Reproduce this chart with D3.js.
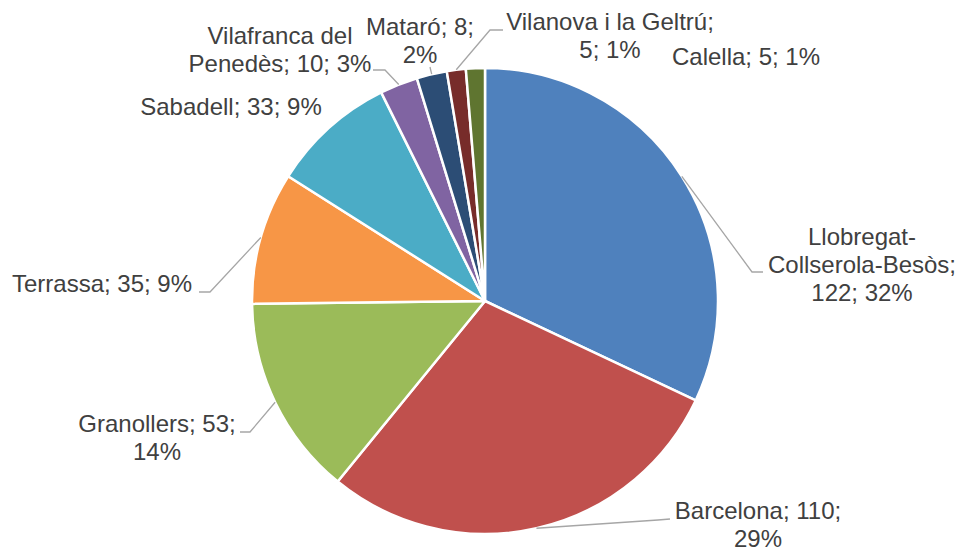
<!DOCTYPE html>
<html>
<head>
<meta charset="utf-8">
<script src="https://cdn.jsdelivr.net/npm/d3@7"></script>
<style>
  html, body { margin: 0; padding: 0; background: #fff; }
  svg { display: block; }
</style>
</head>
<body>
<svg id="chart" width="962" height="551"></svg>
<script>
// ---- data ----
const categories = ["Llobregat-Collserola-Besòs", "Barcelona", "Granollers", "Terrassa", "Sabadell",
                    "Vilafranca del Penedès", "Mataró", "Vilanova i la Geltrú", "Calella"];
const values = [122, 110, 53, 35, 33, 10, 8, 5, 5];
const colors = ["#4F81BD", "#C0504D", "#9BBB59", "#F79646", "#4BACC6",
                "#8064A2", "#2C4D75", "#772C2A", "#5F7530"];

// ---- label layout (placement only) ----
const labelBreaks = [["Llobregat-", "Besòs;"], ["110;"], ["53;"], [], [], ["del"], ["8;"], ["Geltrú;"], []];
const labelAnchor = [[862, 245], [758, 519], [157, 432], [102, 292], [231, 115],
                     [280, 44], [420, 35], [610, 30], [746, 65]];
const leaderPath = [[[752, 272], [763, 272]], [[658, 520], [670, 519]], [[250, 432], [240, 432]],
                    [[210, 292], [199, 292]], null, [[385, 70], [373, 70]], [[430, 67]],
                    [[490, 30], [503, 30]], null];

const W = 962, H = 551, cx = 485, cy = 301, R = 233, lineH = 28;
const svg = d3.select("#chart");
const total = d3.sum(values);
const data = categories.map((c, i) => ({ name: c, value: values[i], i }));

const pie = d3.pie().value(d => d.value).sort(null).startAngle(0).endAngle(2 * Math.PI);
const arc = d3.arc().innerRadius(0).outerRadius(R);
const edge = d3.arc().innerRadius(R).outerRadius(R);
const arcs = pie(data);

const g = svg.append("g").attr("transform", `translate(${cx},${cy})`);
g.selectAll("path.slice").data(arcs).enter().append("path")
  .attr("class", "slice")
  .attr("d", arc)
  .attr("fill", d => colors[d.data.i])
  .attr("stroke", "#fff")
  .attr("stroke-width", 2.5)
  .attr("stroke-linejoin", "round");

// leader lines
arcs.forEach(d => {
  const lp = leaderPath[d.data.i];
  if (!lp) return;
  const c = edge.centroid(d);
  const pts = [[cx + c[0], cy + c[1]], ...lp];
  svg.append("path")
    .attr("d", d3.line()(pts))
    .attr("fill", "none")
    .attr("stroke", "#A6A6A6")
    .attr("stroke-width", 1.3);
});

// labels
arcs.forEach(d => {
  const i = d.data.i;
  const pct = Math.round(d.data.value / total * 100);
  let text = `${d.data.name}; ${d.data.value}; ${pct}%`;
  const lines = [];
  labelBreaks[i].forEach(b => {
    const k = text.indexOf(b) + b.length;
    lines.push(text.slice(0, k).trim());
    text = text.slice(k);
  });
  lines.push(text.trim());
  const t = svg.append("text")
    .attr("x", labelAnchor[i][0])
    .attr("y", labelAnchor[i][1])
    .attr("text-anchor", "middle")
    .attr("font-family", "Liberation Sans, Arial, sans-serif")
    .attr("font-size", 24)
    .attr("fill", "#404040");
  lines.forEach((l, j) => {
    t.append("tspan").attr("x", labelAnchor[i][0]).attr("dy", j === 0 ? 0 : lineH).text(l);
  });
});
</script>
</body>
</html>
